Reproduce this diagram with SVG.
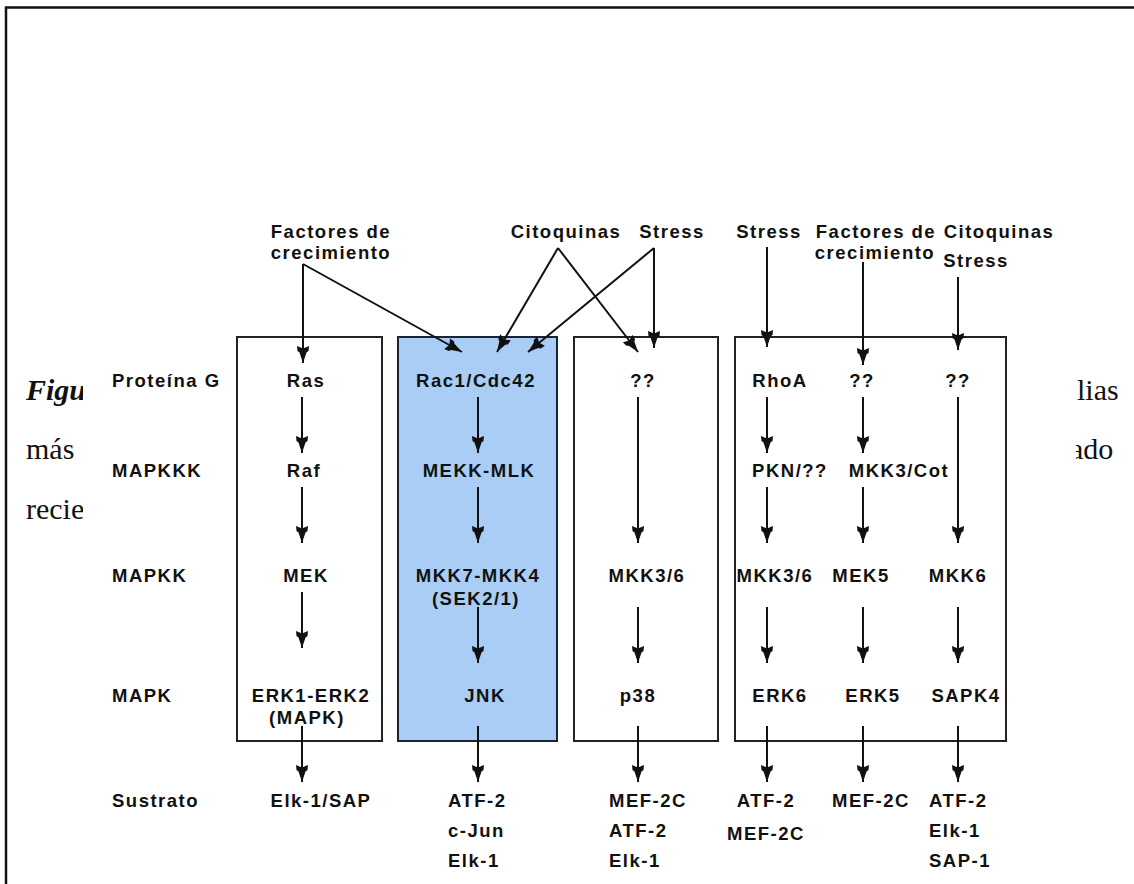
<svg xmlns="http://www.w3.org/2000/svg" width="1134" height="884" viewBox="0 0 1134 884">
<defs>
<style>
.bg{font-family:"Liberation Serif","Times New Roman",serif;font-size:30px;fill:#111}
.t{font-family:"Liberation Sans",Arial,Helvetica,sans-serif;font-weight:bold;font-size:18.5px;letter-spacing:1.5px;fill:#111}
.m{text-anchor:middle}
.box{fill:#fff;stroke:#222;stroke-width:2}
.blue{fill:#a9cdf4;stroke:#1a2433;stroke-width:2}
.c line,.c path{stroke:#111;stroke-width:2;fill:none;marker-end:url(#ah)}
</style>
<marker id="ah" markerUnits="userSpaceOnUse" markerWidth="18" markerHeight="14" viewBox="0 -7 18 14" refX="17" refY="0" orient="auto">
<path d="M0,-6 L5,-5.5 L6.5,-3.5 L17,0 L6.5,3.5 L5,5.5 L0,6 L2.5,0 Z" fill="#111"/>
</marker>
</defs>
<rect width="1134" height="884" fill="#fff"/>
<path d="M6,884 V7.5 H1134" fill="none" stroke="#111" stroke-width="2.5"/>
<g id="background-text">
<text class="bg" x="26" y="400" font-weight="bold" font-style="italic">Figu</text>
<text class="bg" x="1077" y="400">lias</text>
<text class="bg" x="26" y="459">más</text>
<text class="bg" x="1070" y="459">ado</text>
<text class="bg" x="26" y="519">recie</text>
</g>
<rect x="83" y="190" width="993" height="694" fill="#fff"/>
<g id="boxes">
<rect id="box-erk" class="box" x="237" y="337" width="145" height="404"/>
<rect id="box-jnk" class="blue" x="398" y="337" width="159" height="404"/>
<rect id="box-p38" class="box" x="574" y="337" width="144" height="404"/>
<rect id="box-erk5" class="box" x="735" y="337" width="271" height="404"/>
</g>
<g id="connectors" class="c">
<path d="M303,264 V363"/>
<line x1="303" y1="264" x2="462" y2="352"/>
<line x1="558" y1="248" x2="497" y2="352"/>
<line x1="558" y1="248" x2="638" y2="352"/>
<line x1="654" y1="248" x2="528" y2="352"/>
<line x1="654" y1="248" x2="654" y2="348"/>
<line x1="767" y1="247" x2="767" y2="347"/>
<line x1="863" y1="262" x2="863" y2="365"/>
<line x1="958" y1="277" x2="958" y2="350"/>
<line x1="302" y1="397" x2="302" y2="453"/>
<line x1="302" y1="487" x2="302" y2="543"/>
<line x1="302" y1="592" x2="302" y2="648"/>
<line x1="302" y1="726" x2="302" y2="782"/>
<line x1="478" y1="397" x2="478" y2="453"/>
<line x1="478" y1="487" x2="478" y2="543"/>
<line x1="478" y1="607" x2="478" y2="663"/>
<line x1="478" y1="726" x2="478" y2="782"/>
<line x1="638" y1="397" x2="638" y2="543"/>
<line x1="638" y1="607" x2="638" y2="663"/>
<line x1="638" y1="726" x2="638" y2="782"/>
<line x1="767" y1="397" x2="767" y2="453"/>
<line x1="767" y1="487" x2="767" y2="543"/>
<line x1="767" y1="607" x2="767" y2="663"/>
<line x1="767" y1="726" x2="767" y2="782"/>
<line x1="863" y1="397" x2="863" y2="453"/>
<line x1="863" y1="487" x2="863" y2="543"/>
<line x1="863" y1="607" x2="863" y2="663"/>
<line x1="863" y1="726" x2="863" y2="782"/>
<line x1="958" y1="397" x2="958" y2="543"/>
<line x1="958" y1="607" x2="958" y2="663"/>
<line x1="958" y1="726" x2="958" y2="782"/>
</g>
<g id="row-labels" class="t">
<text x="112" y="387">Proteína G</text>
<text x="112" y="477">MAPKKK</text>
<text x="112" y="582">MAPKK</text>
<text x="112" y="702">MAPK</text>
<text x="112" y="807">Sustrato</text>
</g>
<g id="stimuli" class="t m">
<text x="331" y="238">Factores de</text>
<text x="331" y="259">crecimiento</text>
<text x="566" y="238">Citoquinas</text>
<text x="672" y="238">Stress</text>
<text x="769" y="238">Stress</text>
<text x="876" y="238">Factores de</text>
<text x="875" y="259">crecimiento</text>
<text x="999" y="238">Citoquinas</text>
<text x="976" y="267">Stress</text>
</g>
<g id="node-erk" class="t m">
<text x="306" y="387">Ras</text>
<text x="304" y="477">Raf</text>
<text x="306" y="582">MEK</text>
<text x="311" y="702">ERK1-ERK2</text>
<text x="307" y="724">(MAPK)</text>
<text x="321" y="807">Elk-1/SAP</text>
</g>
<g id="node-jnk" class="t m">
<text x="476" y="387">Rac1/Cdc42</text>
<text x="479" y="477">MEKK-MLK</text>
<text x="478" y="582">MKK7-MKK4</text>
<text x="476" y="605">(SEK2/1)</text>
<text x="485" y="702">JNK</text>
<text x="448" y="807" text-anchor="start">ATF-2</text>
<text x="448" y="837" text-anchor="start">c-Jun</text>
<text x="448" y="867" text-anchor="start">Elk-1</text>
</g>
<g id="node-p38" class="t m">
<text x="643" y="387">??</text>
<text x="647" y="582">MKK3/6</text>
<text x="638" y="702">p38</text>
<text x="609" y="807" text-anchor="start">MEF-2C</text>
<text x="609" y="837" text-anchor="start">ATF-2</text>
<text x="609" y="867" text-anchor="start">Elk-1</text>
</g>
<g id="node-erk6" class="t m">
<text x="780" y="387">RhoA</text>
<text x="790" y="477">PKN/??</text>
<text x="775" y="582">MKK3/6</text>
<text x="780" y="702">ERK6</text>
<text x="766" y="807">ATF-2</text>
<text x="766" y="840">MEF-2C</text>
</g>
<g id="node-erk5" class="t m">
<text x="862" y="387">??</text>
<text x="899" y="477">MKK3/Cot</text>
<text x="861" y="582">MEK5</text>
<text x="873" y="702">ERK5</text>
<text x="871" y="807">MEF-2C</text>
</g>
<g id="node-sapk4" class="t m">
<text x="958" y="387">??</text>
<text x="958" y="582">MKK6</text>
<text x="966" y="702">SAPK4</text>
<text x="929" y="807" text-anchor="start">ATF-2</text>
<text x="929" y="837" text-anchor="start">Elk-1</text>
<text x="929" y="867" text-anchor="start">SAP-1</text>
</g>
</svg>
